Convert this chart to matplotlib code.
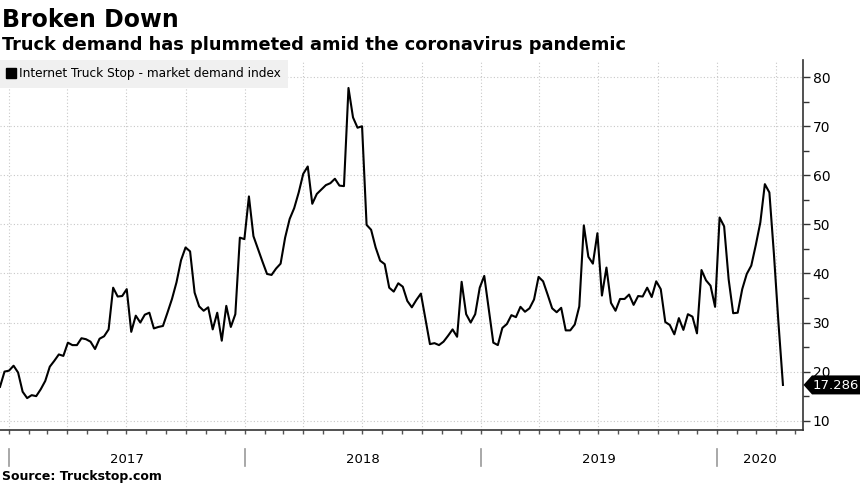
import numpy as np
import pandas as pd
import matplotlib
matplotlib.use("Agg")
import matplotlib.pyplot as plt
import matplotlib.dates as mdates
from matplotlib.lines import Line2D
from matplotlib.patches import Polygon
from matplotlib.transforms import blended_transform_factory, ScaledTranslation

# weekly index values
start_date = "2016-12-18"
demand = [
    16.9, 20.0, 20.2, 21.2, 19.8, 15.9, 14.6, 15.2, 15.0, 16.4,
    18.1, 21.0, 22.2, 23.5, 23.2, 25.9, 25.4, 25.4, 26.8, 26.6,
    26.1, 24.6, 26.7, 27.2, 28.6, 37.1, 35.3, 35.4, 36.8, 28.1,
    31.4, 30.0, 31.6, 32.0, 28.8, 29.1,
    29.3, 32.0, 34.8, 38.2, 42.7, 45.3, 44.5, 36.1, 33.3, 32.4,
    33.1, 28.6, 32.0, 26.3, 33.4, 29.1, 31.7, 47.3, 47.0, 55.7,
    47.6, 45.0, 42.4, 39.9, 39.7, 41.0, 42.0, 47.3, 51.1, 53.3,
    56.5, 60.3, 61.8, 54.2, 56.2,
    57.1, 58.0, 58.4, 59.3, 57.9, 57.8, 77.8, 71.8, 69.7, 70.0,
    49.9, 48.9, 45.3, 42.6, 41.9, 37.1, 36.3, 38.0, 37.3, 34.4,
    33.1, 34.6, 35.9, 30.7, 25.6, 25.8, 25.4, 26.1, 27.3, 28.6,
    27.1, 38.3, 31.7, 30.0, 31.7,
    37.1, 39.5, 32.7, 25.9, 25.4, 28.9, 29.7, 31.5, 31.1, 33.2,
    32.2, 32.9, 34.7, 39.3, 38.4, 35.7, 32.9, 32.1, 33.0, 28.4,
    28.4, 29.6, 33.3, 49.8, 43.4, 42.0, 48.2, 35.5, 41.2, 34.0,
    32.4, 34.8, 34.8, 35.7, 33.6,
    35.4, 35.3, 37.1, 35.2, 38.4, 36.8, 30.1, 29.5, 27.6, 30.9,
    28.5, 31.7, 31.2, 27.8, 40.7, 38.6, 37.5, 33.2, 51.4, 49.6,
    38.8, 31.9, 32.0, 36.8, 39.9, 41.6, 45.8, 50.4, 58.2, 56.5,
    44.0, 30.0, 17.286,
]
years = [2017, 2018, 2019, 2020]
yticks = [10, 20, 30, 40, 50, 60, 70, 80]
series_name = "Internet Truck Stop - market demand index"

dates = pd.date_range(start_date, periods=len(demand), freq="7D")

fig = plt.figure(figsize=(8.6, 4.84), dpi=100)
ax = fig.add_axes([0.0, 1 - 430 / 484, 803 / 860, 370 / 484])

ax.plot(dates, demand, color="black", lw=1.5, zorder=3)

x_end = pd.Timestamp("2020-05-13")
ax.set_xlim(dates[0], x_end)
ax.set_ylim(8.1, 83.5)

# axes look
for s in ["left", "top"]:
    ax.spines[s].set_visible(False)
ax.spines["bottom"].set_color("#333333")
ax.spines["right"].set_color("#333333")
ax.spines["bottom"].set_linewidth(1.2)
ax.spines["right"].set_linewidth(1.2)

ax.yaxis.tick_right()
ax.set_yticks(yticks)
ax.set_yticks(np.arange(15, 85, 10), minor=True)
ax.tick_params(axis="y", which="major", length=5, width=1, colors="#333333",
               labelcolor="black", labelsize=10, pad=2)
ax.tick_params(axis="y", which="minor", length=4, width=1, colors="#333333")

ax.xaxis.set_major_locator(mdates.MonthLocator(bymonth=[1, 4, 7, 10]))
ax.xaxis.set_minor_locator(mdates.MonthLocator())
ax.xaxis.set_major_formatter(plt.NullFormatter())
ax.tick_params(axis="x", which="both", length=3, width=1, colors="#555555")

ax.grid(True, which="major", color="#c8c8c8", lw=0.8, linestyle=(0, (1, 2)))

# year labels and separators under the axis
trans = blended_transform_factory(ax.transData, ax.transAxes)
for yr in years:
    left = pd.Timestamp(f"{yr}-01-01")
    right = min(pd.Timestamp(f"{yr + 1}-01-01"), x_end)
    ax.plot([left, left], [-0.0514, -0.0973], color="#999999", lw=1.2,
            transform=trans, clip_on=False)
    mid = left + (right - left) / 2
    ax.text(mid, -0.0895, str(yr), transform=trans, ha="center", va="baseline",
            fontsize=9.5)

# legend box
handle = Line2D([], [], marker="s", color="black", linestyle="None", markersize=7)
leg = ax.legend([handle], [series_name], loc="upper left", bbox_to_anchor=(0, 1),
                borderaxespad=0, frameon=True, fancybox=False, handlelength=0.7,
                handletextpad=0.3, borderpad=0.6, fontsize=8.7)
leg.get_frame().set_facecolor("#f0f0f0")
leg.get_frame().set_edgecolor("none")
leg.get_frame().set_alpha(1)

# last value tag
last = demand[-1]
base = blended_transform_factory(ax.transAxes, ax.transData)
tag_trans = fig.dpi_scale_trans + ScaledTranslation(1, last, base)
tag = Polygon([(0.005, 0), (0.09, 0.095), (0.6, 0.095), (0.6, -0.095), (0.09, -0.095)],
              closed=True, facecolor="black", edgecolor="none",
              transform=tag_trans, clip_on=False, zorder=10)
ax.add_patch(tag)
ax.text(0.33, -0.005, f"{last:.3f}", transform=tag_trans, color="white", fontsize=9.5,
        ha="center", va="center", zorder=11)

# titles
fig.text(0.002, 1 - 27 / 484, "Broken Down", fontsize=17, fontweight="bold",
         va="baseline")
fig.text(0.002, 1 - 50 / 484, "Truck demand has plummeted amid the coronavirus pandemic",
         fontsize=12.8, fontweight="bold", va="baseline")
fig.text(0.002, 1 - 480 / 484, "Source: Truckstop.com", fontsize=9,
         fontweight="bold", va="baseline")

fig.savefig("out.png", dpi=100)
